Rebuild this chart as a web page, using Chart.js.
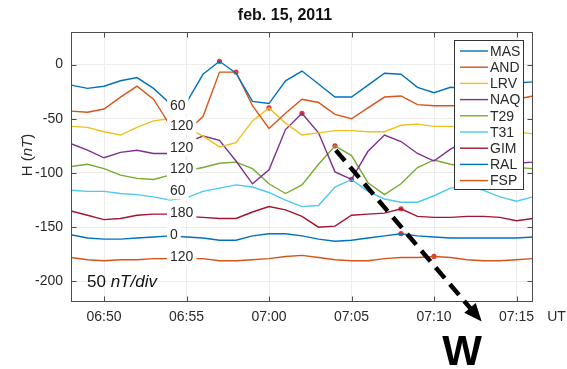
<!DOCTYPE html>
<html>
<head>
<meta charset="utf-8">
<script src="https://cdn.jsdelivr.net/npm/chart.js@4.4.0/dist/chart.umd.min.js"></script>
<style>
  html, body { margin: 0; padding: 0; background: #fff; }
  canvas { display: block; }
</style>
</head>
<body>
<canvas id="chart" width="567" height="369"></canvas>
<script>
// one sample per minute, 06:48 .. 07:16 UT
const times = ['06:48','06:49','06:50','06:51','06:52','06:53','06:54','06:55','06:56','06:57',
               '06:58','06:59','07:00','07:01','07:02','07:03','07:04','07:05','07:06','07:07',
               '07:08','07:09','07:10','07:11','07:12','07:13','07:14','07:15','07:16'];
const stations = ['MAS','AND','LRV','NAQ','T29','T31','GIM','RAL','FSP'];
const colors = ['#0072BD','#D95319','#EDC21F','#7E2F8E','#77AC30','#4DC8EE','#A2142F','#0072BD','#D95319'];

// H component, stacked with offsets (nT)
const masH = [-19,-22,-20,-15,-12,-22,-36,-35,-9,3,-8,-34,-36,-15,-6,-18,-30,-30,-19,-8,-9,-21,-26,-21,-22,-20,-18,-17,-16];
const andH = [-43,-44,-41,-30,-20,-32,-56,-62,-48,-7,-7,-38,-59,-45,-32,-35,-46,-50,-40,-30,-29,-37,-38,-38,-38,-36,-34,-32,-29];
const lrvH = [-57,-58,-62,-65,-58,-52,-50,-58,-66,-76,-72,-52,-40,-54,-65,-63,-61,-61,-62,-62,-56,-55,-57,-57,-57,-58,-60,-62,-64];
const naqH = [-73,-79,-86,-81,-79,-82,-82,-72,-66,-70,-89,-110,-97,-60,-45,-63,-99,-106,-80,-65,-71,-82,-89,-78,-70,-76,-86,-91,-90];
const t29H = [-94,-92,-96,-102,-105,-106,-102,-98,-95,-91,-90,-96,-110,-119,-111,-92,-75,-84,-109,-120,-110,-95,-88,-92,-95,-97,-98,-95,-96];
const t31H = [-116,-117,-117,-119,-120,-122,-125,-123,-117,-114,-111,-113,-118,-125,-131,-130,-113,-106,-117,-124,-127,-127,-121,-114,-112,-116,-122,-126,-122];
const gimH = [-135,-139,-143,-142,-139,-138,-138,-140,-141,-142,-142,-136,-131,-134,-140,-150,-149,-139,-138,-137,-133,-140,-141,-141,-140,-140,-141,-144,-142];
const ralH = [-157,-160,-161,-161,-160,-159,-158,-159,-160,-162,-162,-158,-156,-156,-158,-161,-163,-162,-160,-158,-156,-158,-159,-160,-160,-160,-160,-160,-159];
const fspH = [-178,-180,-181,-180,-180,-179,-179,-179,-179,-181,-181,-180,-179,-177,-176,-178,-180,-181,-181,-179,-178,-178,-177,-178,-180,-181,-181,-180,-179];
const series = [masH, andH, lrvH, naqH, t29H, t31H, gimH, ralH, fspH];

// red marks, one per station in the same order
const markerTimes = ['06:57','06:58','07:00','07:02','07:04','07:05','07:08','07:08','07:10'];

// numbers written next to the traces at 06:54
const shiftTime = '06:54';
const shiftTexts = ['60','120','120','120','60','180','0','120'];
const shiftValues = [-37,-56,-76,-96,-116,-136,-156,-177];

const xTickLabels = ['06:50','06:55','07:00','07:05','07:10','07:15'];
const yTicks = [-200,-150,-100,-50,0];

const FONT = 'Liberation Sans, Arial, sans-serif';
const TXT = '#2a2a2a';

const toMin = t => { const p = t.split(':').map(Number); return p[0] * 60 + p[1]; };
const fmt = v => String(Math.floor(v / 60)).padStart(2, '0') + ':' + String(v % 60).padStart(2, '0');

const datasets = stations.map((name, i) => ({
  label: name,
  data: times.map((t, j) => ({ x: toMin(t), y: series[i][j] })),
  borderColor: colors[i],
  borderWidth: 1.4,
  pointRadius: 0,
  tension: 0,
  fill: false
}));
datasets.push({
  type: 'scatter',
  label: 'marks',
  data: markerTimes.map((t, i) => ({ x: toMin(t), y: series[i][times.indexOf(t)] })),
  pointRadius: 2.6,
  backgroundColor: '#e8333d',
  borderWidth: 0
});

const decor = {
  id: 'decor',
  afterDatasetsDraw(chart) {
    const { ctx, scales: { x, y } } = chart;
    ctx.save();
    ctx.font = '14px ' + FONT;
    ctx.textBaseline = 'middle';
    const px = x.getPixelForValue(toMin(shiftTime));
    shiftTexts.forEach((s, i) => {
      const py = y.getPixelForValue(shiftValues[i]);
      const w = ctx.measureText(s).width;
      ctx.fillStyle = '#fff';
      ctx.fillRect(px - 3, py - 9, w + 6, 18);
      ctx.fillStyle = TXT;
      ctx.fillText(s, px, py + 1);
    });
    ctx.restore();
  },
  afterDraw(chart) {
    const { ctx, chartArea: a, scales: { x, y } } = chart;
    ctx.save();

    // legend
    const lx = 454.5, ly = 40.5, lw = 69, lh = 149;
    ctx.fillStyle = '#fff';
    ctx.fillRect(lx, ly, lw, lh);
    ctx.strokeStyle = '#333';
    ctx.lineWidth = 1;
    ctx.strokeRect(lx, ly, lw, lh);
    ctx.font = '14px ' + FONT;
    ctx.textBaseline = 'middle';
    stations.forEach((name, i) => {
      const ry = 51 + 16.2 * i;
      ctx.strokeStyle = colors[i];
      ctx.lineWidth = 1.4;
      ctx.beginPath();
      ctx.moveTo(460, ry);
      ctx.lineTo(488, ry);
      ctx.stroke();
      ctx.fillStyle = TXT;
      ctx.fillText(name, 490, ry + 1);
    });

    // axes box with inward ticks
    ctx.strokeStyle = '#4d4d4d';
    ctx.lineWidth = 1;
    const L = Math.round(a.left) + 0.5, R = Math.round(a.right) - 0.5;
    const T = Math.round(a.top) + 0.5, B = Math.round(a.bottom) - 0.5;
    ctx.strokeRect(L, T, R - L, B - T);
    ctx.beginPath();
    xTickLabels.forEach(t => {
      const p = Math.round(x.getPixelForValue(toMin(t))) + 0.5;
      ctx.moveTo(p, B); ctx.lineTo(p, B - 5);
      ctx.moveTo(p, T); ctx.lineTo(p, T + 5);
    });
    yTicks.forEach(v => {
      const p = Math.round(y.getPixelForValue(v)) + 0.5;
      ctx.moveTo(L, p); ctx.lineTo(L + 5, p);
      ctx.moveTo(R, p); ctx.lineTo(R - 5, p);
    });
    ctx.stroke();

    // title
    ctx.fillStyle = '#111';
    ctx.font = 'bold 16px ' + FONT;
    ctx.textAlign = 'center';
    ctx.fillText('feb. 15, 2011', 285, 16);

    // y axis title
    ctx.save();
    ctx.translate(28, 155);
    ctx.rotate(-Math.PI / 2);
    const parts = [['H (', '15px '], ['nT', 'italic 15px '], [')', '15px ']];
    let tot = 0;
    parts.forEach(p => { ctx.font = p[1] + FONT; tot += ctx.measureText(p[0]).width; });
    let cx = -tot / 2;
    ctx.textAlign = 'left';
    ctx.fillStyle = TXT;
    parts.forEach(p => { ctx.font = p[1] + FONT; ctx.fillText(p[0], cx, 0); cx += ctx.measureText(p[0]).width; });
    ctx.restore();

    // scale note
    ctx.textAlign = 'left';
    ctx.fillStyle = '#111';
    ctx.font = '17px ' + FONT;
    ctx.fillText('50 ', 87, 282);
    const w50 = ctx.measureText('50 ').width;
    ctx.font = 'italic 17px ' + FONT;
    ctx.fillText('nT/div', 87 + w50, 282);

    // UT unit
    ctx.font = '14px ' + FONT;
    ctx.textAlign = 'center';
    ctx.fillStyle = TXT;
    ctx.fillText('UT', 556.5, 317);

    // dashed arrow towards W
    const x0 = x.getPixelForValue(toMin('06:48') + 16.05), y0 = y.getPixelForValue(-79);
    const x1 = x.getPixelForValue(toMin('06:48') + 24.89), y1 = y.getPixelForValue(-237);
    const len = Math.hypot(x1 - x0, y1 - y0);
    const ux = (x1 - x0) / len, uy = (y1 - y0) / len;
    ctx.strokeStyle = '#000';
    ctx.lineWidth = 4.5;
    ctx.setLineDash([14, 8]);
    ctx.beginPath();
    ctx.moveTo(x0, y0);
    ctx.lineTo(x1 - ux * 15, y1 - uy * 15);
    ctx.stroke();
    ctx.setLineDash([]);
    ctx.fillStyle = '#000';
    ctx.beginPath();
    ctx.moveTo(x1, y1);
    ctx.lineTo(x1 - ux * 18 - uy * 7.5, y1 - uy * 18 + ux * 7.5);
    ctx.lineTo(x1 - ux * 18 + uy * 7.5, y1 - uy * 18 - ux * 7.5);
    ctx.closePath();
    ctx.fill();

    ctx.font = 'bold 42px ' + FONT;
    ctx.textAlign = 'center';
    ctx.textBaseline = 'alphabetic';
    ctx.fillText('W', 462, 365);

    ctx.restore();
  }
};

new Chart(document.getElementById('chart'), {
  type: 'line',
  data: { datasets },
  options: {
    responsive: false,
    animation: false,
    devicePixelRatio: 1,
    layout: { padding: { left: 0, right: 34, top: 32, bottom: 0 } },
    plugins: { legend: { display: false }, tooltip: { enabled: false } },
    scales: {
      x: {
        type: 'linear',
        min: toMin(times[0]),
        max: toMin(times[times.length - 1]),
        afterBuildTicks: s => { s.ticks = xTickLabels.map(t => ({ value: toMin(t) })); },
        afterFit: s => { s.height = 67; },
        ticks: { callback: v => fmt(v), font: { family: FONT, size: 14 }, color: TXT, padding: 7, maxRotation: 0, autoSkip: false },
        grid: { color: '#ececec', drawTicks: false },
        border: { display: false }
      },
      y: {
        min: -219,
        max: 30,
        afterBuildTicks: s => { s.ticks = yTicks.map(v => ({ value: v })); },
        afterFit: s => { s.width = 71; },
        ticks: { font: { family: FONT, size: 14 }, color: TXT, padding: 8 },
        grid: { color: '#ececec', drawTicks: false },
        border: { display: false }
      }
    }
  },
  plugins: [decor]
});
</script>
</body>
</html>
